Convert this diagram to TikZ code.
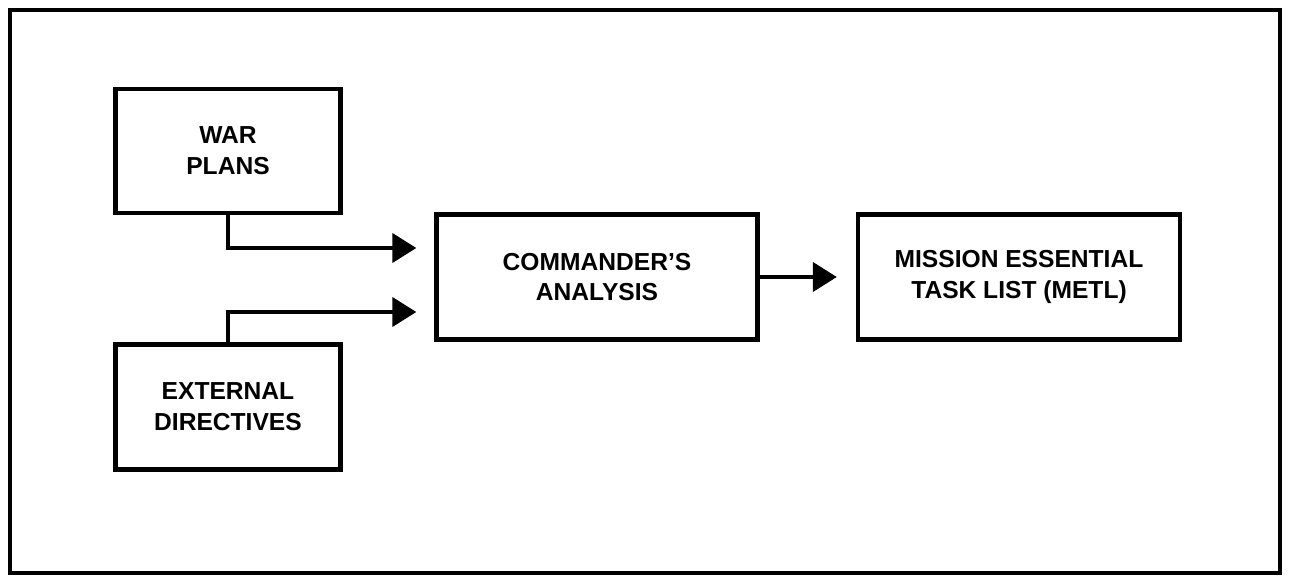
\documentclass[tikz,border=0pt]{standalone}
\usepackage{fontspec}
\setmainfont{Liberation Sans}
\usetikzlibrary{arrows.meta,calc}

\begin{document}
\begin{tikzpicture}[x=0.02cm,y=0.02cm,
	box/.style={draw,line width=2.5pt,align=center,inner sep=0pt,
		font=\fontsize{14}{17.6}\selectfont\bfseries},
	arr/.style={line width=2.4pt,-{Triangle[length=0.48cm,width=0.58cm]}}]
		\useasboundingbox (0,0) rectangle (1289,576);
		\draw[line width=2.3pt] (10,3) rectangle (1280,566);
		\node[box,minimum width=4.5cm,minimum height=2.48cm] (war) at (228,425) {WAR\\PLANS};
		\node[box,minimum width=4.5cm,minimum height=2.5cm] (ext) at (228,169) {EXTERNAL\\DIRECTIVES};
		\node[box,minimum width=6.42cm,minimum height=2.5cm] (cmd) at (597,299) {COMMANDER’S\\ANALYSIS};
		\node[box,minimum width=6.44cm,minimum height=2.5cm] (metl) at (1019,299) {MISSION ESSENTIAL\\TASK LIST (METL)};
		%		inputs into the analysis
		\draw[arr] (war.south) |- ($(cmd.west)+(-18,29)$);
		\draw[arr] (ext.north) |- ($(cmd.west)+(-18,-35)$);
		\draw[arr] (cmd.east) -- ($(metl.west)+(-19,0)$);
	\end{tikzpicture}
\end{document}
